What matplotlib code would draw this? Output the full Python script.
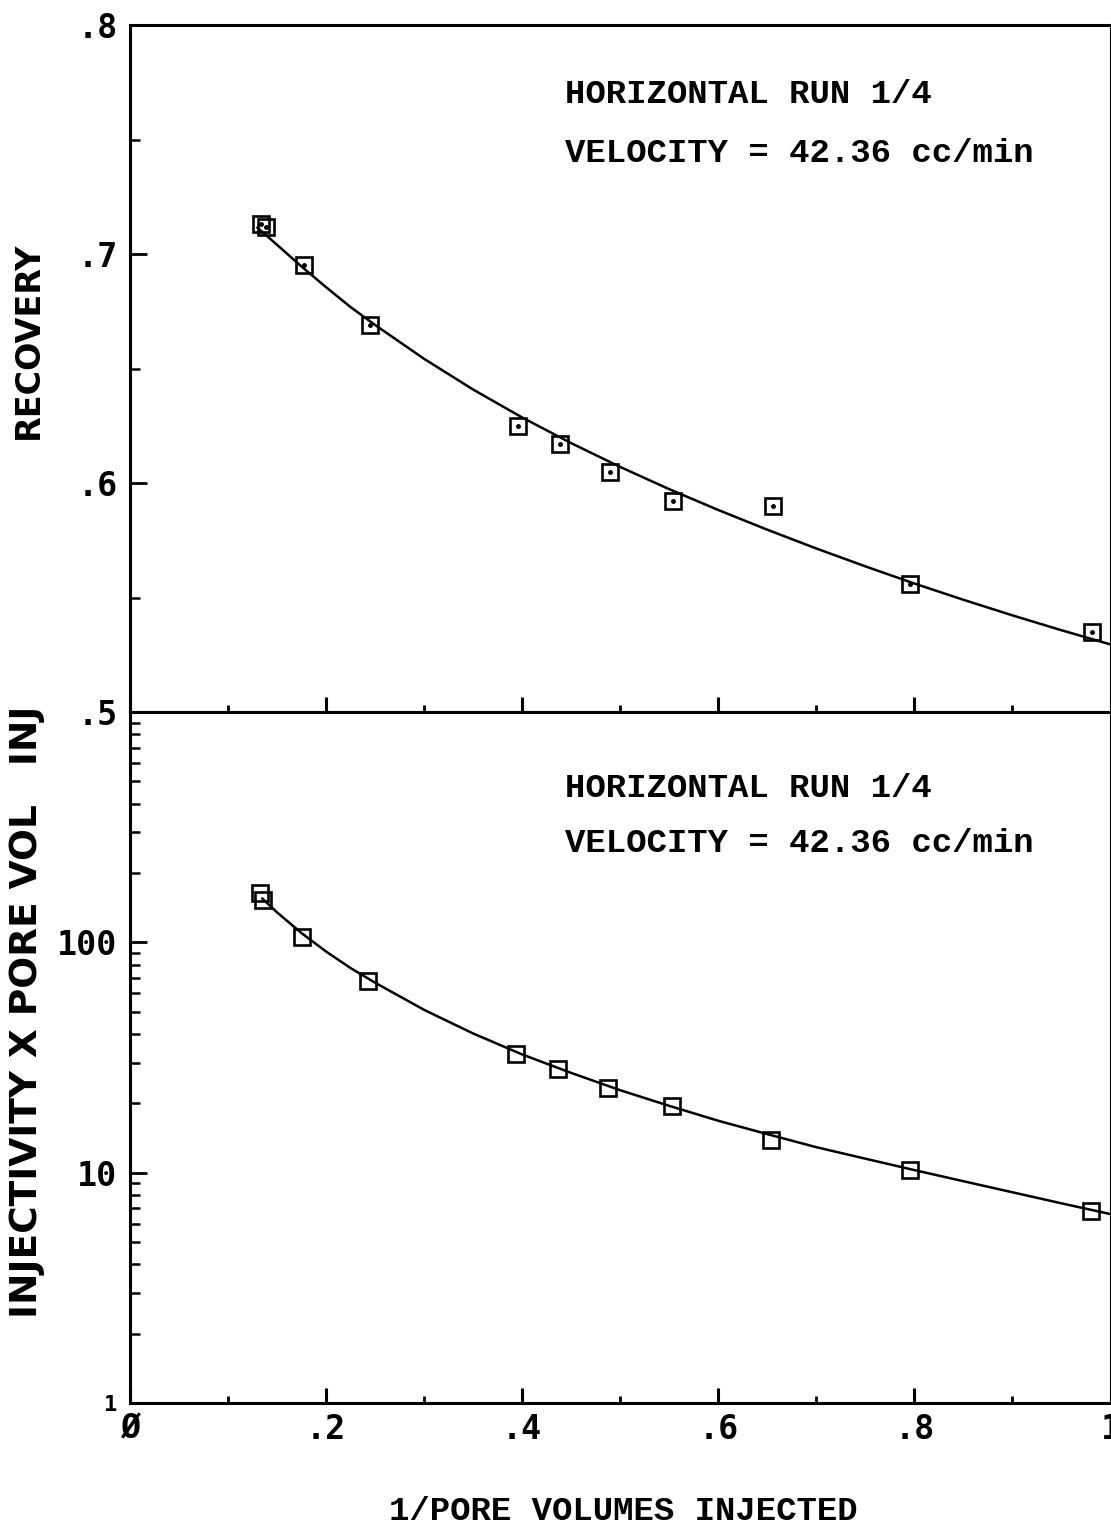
import matplotlib
matplotlib.use("Agg")
import matplotlib.pyplot as plt
from matplotlib.ticker import FixedLocator, NullFormatter, LogLocator

# ----------------- data -----------------
# measured points (1/pore volumes injected)
pv_inv = [0.134, 0.139, 0.177, 0.245, 0.396, 0.439, 0.490, 0.554, 0.656, 0.796, 0.981]
recovery = [0.713, 0.712, 0.695, 0.669, 0.625, 0.617, 0.605, 0.592, 0.590, 0.556, 0.535]
pv_inv_b = [0.133, 0.136, 0.175, 0.243, 0.394, 0.437, 0.488, 0.553, 0.654, 0.796, 0.980]
injectivity = [164, 152, 106, 67.8, 32.7, 28.2, 23.3, 19.5, 13.9, 10.3, 6.85]

# fitted curves
curve_x = [0.13, 0.15, 0.175, 0.20, 0.225, 0.25, 0.30, 0.35, 0.40, 0.45, 0.50, 0.55,
           0.60, 0.65, 0.70, 0.75, 0.80, 0.85, 0.90, 0.95, 1.00]
curve_rec = [0.7115, 0.704, 0.6945, 0.6855, 0.6768, 0.669, 0.6542, 0.6408, 0.6286,
             0.6174, 0.607, 0.5973, 0.5882, 0.5796, 0.5714, 0.5636, 0.5561, 0.5490,
             0.5422, 0.5357, 0.5295]
curve_xb = [0.135, 0.15, 0.175, 0.20, 0.225, 0.25, 0.30, 0.35, 0.40, 0.45, 0.50, 0.55,
            0.60, 0.65, 0.70, 0.75, 0.80, 0.85, 0.90, 0.95, 1.00]
curve_inj = [154.9, 134.9, 109.6, 91.2, 77.3, 66.8, 50.9, 40.2, 32.6, 27.1, 22.8, 19.5,
             16.8, 14.7, 12.9, 11.5, 10.26, 9.18, 8.22, 7.36, 6.61]

rec_ticks = [0.5, 0.6, 0.7, 0.8]
rec_labels = [".5", ".6", ".7", ".8"]
inj_ticks = [1, 10, 100]
inj_labels = ["1", "10", "100"]
x_ticks = [0, 0.2, 0.4, 0.6, 0.8, 1.0]
x_labels = ["Ø", ".2", ".4", ".6", ".8", "1"]

note1 = "HORIZONTAL RUN 1/4"
note2 = "VELOCITY = 42.36 cc/min"

# ----------------- layout -----------------
W, H = 1111, 1530
fig = plt.figure(figsize=(W / 100, H / 100), dpi=100)

left = 130 / W
width = (1110.5 - 130) / W
ax1 = fig.add_axes([left, 1 - 712 / H, width, (712 - 25) / H])
ax2 = fig.add_axes([left, 1 - 1403 / H, width, (1403 - 712) / H])

tick_font = dict(family="DejaVu Sans Mono", weight="bold")
note_font = dict(family="Liberation Mono", weight="bold", size=24.5)

for ax in (ax1, ax2):
    for sp in ax.spines.values():
        sp.set_linewidth(2.2)
    ax.set_xlim(0, 1.0)
    ax.xaxis.set_major_locator(FixedLocator(x_ticks))
    ax.xaxis.set_minor_locator(FixedLocator([0.1, 0.3, 0.5, 0.7, 0.9]))
    ax.tick_params(axis="x", which="major", direction="in", length=11, width=2.2,
                   top=False, pad=7)
    ax.tick_params(axis="x", which="minor", direction="in", length=5, width=2,
                   top=False)
    ax.tick_params(axis="y", which="major", direction="in", length=12, width=2,
                   right=False, pad=9)
    ax.tick_params(axis="y", which="minor", direction="in", length=7, width=1.8,
                   right=False)

# ----------------- top: recovery -----------------
ax1.plot(curve_x, curve_rec, color="black", linewidth=1.8)
ax1.plot(pv_inv, recovery, linestyle="none", marker="s", markersize=12,
         markerfacecolor="none", markeredgecolor="black", markeredgewidth=1.9)
ax1.plot(pv_inv, recovery, linestyle="none", marker="o", markersize=2.5,
         color="black")
ax1.set_ylim(0.5, 0.8)
ax1.yaxis.set_major_locator(FixedLocator(rec_ticks))
ax1.yaxis.set_minor_locator(FixedLocator([0.55, 0.65, 0.75]))
ax1.set_yticklabels(rec_labels, fontsize=24, **tick_font)
ax1.xaxis.set_major_formatter(NullFormatter())
ax1.set_ylabel("RECOVERY", fontsize=24, fontweight="bold")
ax1.yaxis.set_label_coords(-85 / 980.5, 0.541)

ax1.text(0.444, 0.886, note1, transform=ax1.transAxes, va="baseline", **note_font)
ax1.text(0.444, 0.800, note2, transform=ax1.transAxes, va="baseline", **note_font)

# ----------------- bottom: injectivity -----------------
ax2.plot(curve_xb, curve_inj, color="black", linewidth=1.8)
ax2.plot(pv_inv_b, injectivity, linestyle="none", marker="s", markersize=12,
         markerfacecolor="none", markeredgecolor="black", markeredgewidth=1.9)
ax2.set_yscale("log")
ax2.set_ylim(1, 1000)
ax2.yaxis.set_major_locator(FixedLocator(inj_ticks))
ax2.yaxis.set_minor_locator(LogLocator(base=10, subs=range(2, 10)))
ax2.yaxis.set_minor_formatter(NullFormatter())
ax2.set_yticklabels(inj_labels, fontsize=24, **tick_font)
ax2.get_yticklabels()[0].set_fontsize(16)
ax2.set_xticklabels(x_labels, fontsize=24, **tick_font)
ax2.set_ylabel("INJECTIVITY X PORE VOL   INJ", fontsize=27, fontweight="bold")
ax2.yaxis.set_label_coords(-85 / 980.5, 0.566)

ax2.text(0.444, 0.877, note1, transform=ax2.transAxes, va="baseline", **note_font)
ax2.text(0.444, 0.797, note2, transform=ax2.transAxes, va="baseline", **note_font)

fig.text(623 / W, 1 - 1520 / H, "1/PORE VOLUMES INJECTED", ha="center",
         va="baseline", family="Liberation Mono", fontweight="bold", fontsize=24.5)

fig.savefig("out.png", dpi=100)
plt.close(fig)
